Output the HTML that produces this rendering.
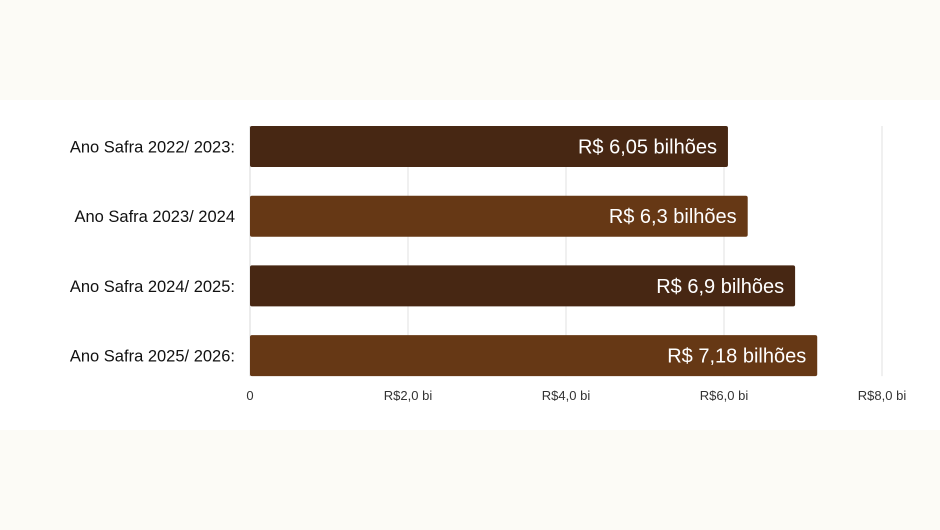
<!DOCTYPE html>
<html><head><meta charset="utf-8"><style>
html,body{margin:0;padding:0;background:#fcfbf6;}
#wrap{position:relative;width:940px;height:530px;overflow:hidden;font-family:"Liberation Sans",sans-serif;}
#panel{position:absolute;left:0;top:100px;width:940px;height:330px;background:#ffffff;}
svg{position:absolute;left:0;top:0;}
</style></head><body>
<div id="wrap">
<div id="panel"></div>
<svg id="chart" width="940" height="530"></svg>
</div>
<script>
const categories=["Ano Safra 2022/ 2023:","Ano Safra 2023/ 2024","Ano Safra 2024/ 2025:","Ano Safra 2025/ 2026:"];
const values=[6.05,6.3,6.9,7.18];
const valueLabels=["R$ 6,05 bilhões","R$ 6,3 bilhões","R$ 6,9 bilhões","R$ 7,18 bilhões"];
const tickValues=[0,2,4,6,8];
const tickLabels=["0","R$2,0 bi","R$4,0 bi","R$6,0 bi","R$8,0 bi"];
const colors=["#472713","#663815"];
const svg=document.getElementById('chart');
const NS="http://www.w3.org/2000/svg";
const x0=250,xMax=8,plotW=632,plotTop=126,band=69.7,barH=41;
const xs=v=>x0+v/xMax*plotW;
const ys=i=>plotTop+i*band;
function mk(t,a){const e=document.createElementNS(NS,t);for(const k in a)e.setAttribute(k,a[k]);svg.appendChild(e);return e;}
tickValues.forEach((v,i)=>{
  if(v>0){const l=mk('line',{x1:xs(v),x2:xs(v),y1:plotTop,y2:ys(3)+barH,stroke:'#e2e2e2','stroke-width':1});
  
  }
  const t=mk('text',{x:xs(v),y:400,'text-anchor':'middle','font-size':13,fill:'#333'});
  t.textContent=tickLabels[i];
  
  
});
const ax=mk('line',{x1:x0,x2:x0,y1:plotTop,y2:ys(3)+barH,stroke:'#d8d8d8','stroke-width':1});


categories.forEach((c,i)=>{
  const r=mk('rect',{x:x0,y:ys(i),width:xs(values[i])-x0,height:barH,rx:2,fill:colors[i%2]});
  
  
  const v=mk('text',{x:xs(values[i])-11,y:ys(i)+barH/2+7,'text-anchor':'end','font-size':20,fill:'#ffffff'});
  v.textContent=valueLabels[i];
  
  
  const l=mk('text',{x:235,y:ys(i)+barH/2+6,'text-anchor':'end','font-size':16.5,fill:'#111'});
  l.textContent=c;
  
  
});
</script>
</body></html>
